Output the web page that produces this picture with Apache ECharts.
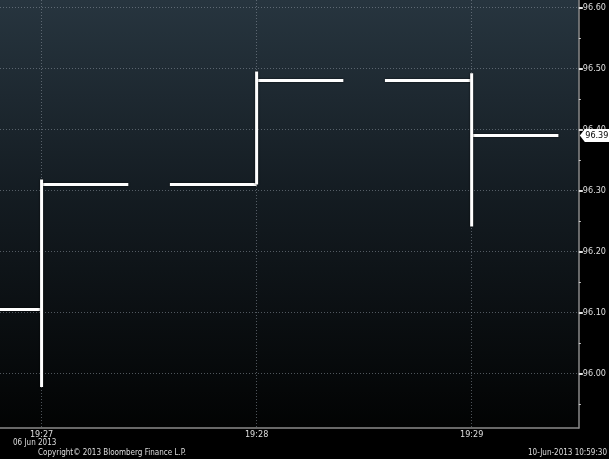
<!DOCTYPE html>
<html>
<head>
<meta charset="utf-8">
<script src="https://cdn.jsdelivr.net/npm/echarts@6/dist/echarts.min.js"></script>
<style>html,body{margin:0;padding:0;background:#000;}#c{width:609px;height:459px;}</style>
</head>
<body>
<div id="c"></div>
<script>
// ---- data ----
const barTimes = ['19:27', '19:28', '19:29'];
const opens  = [96.105, 96.31, 96.48];
const highs  = [96.318, 96.495, 96.492];
const lows   = [95.978, 96.31, 96.241];
const closes = [96.31, 96.48, 96.39];
const xTickLabels = ['19:27', '19:28', '19:29'];
const yTickValues = [96.00, 96.10, 96.20, 96.30, 96.40, 96.50, 96.60];
const yMinorValues = [95.95, 96.05, 96.15, 96.25, 96.35, 96.45, 96.55];
const dateLabel = '06 Jun 2013';
const copyrightText = 'Copyright\u00A9 2013 Bloomberg Finance L.P.';
const stampText = '10-Jun-2013 10:59:30';

// ---- helpers ----
const toSec = s => { const [h, m] = s.split(':').map(Number); return h * 3600 + m * 60; };
const xTickValues = xTickLabels.map(toSec);
const ohlc = barTimes.map((t, i) => [toSec(t), opens[i], highs[i], lows[i], closes[i]]);
const tickHalf = 24.2; // seconds for open/close tick length
const xMin = toSec('19:27') - 11.6;
const xMax = toSec('19:29') + 29.9;
const yMin = 95.911, yMax = 96.612;
const FONT = "'Liberation Sans Narrow', 'DejaVu Sans Condensed', 'Liberation Sans', sans-serif";
const txtColor = '#dedede';
const gridLine = { show: true, lineStyle: { type: [1, 2], color: 'rgba(140,150,160,0.55)', width: 1 } };

const chart = echarts.init(document.getElementById('c'), null, { renderer: 'canvas' });
chart.setOption({
  backgroundColor: '#000',
  animation: false,
  grid: {
    left: 0, right: 30, top: 0, bottom: 31, show: true, borderWidth: 0,
    backgroundColor: { type: 'linear', x: 0, y: 0, x2: 0, y2: 1, colorStops: [
      { offset: 0, color: '#27353f' }, { offset: 0.45, color: '#141c22' }, { offset: 1, color: '#020303' }] }
  },
  xAxis: {
    type: 'value', min: xMin, max: xMax,
    axisLine: { show: true, onZero: false, lineStyle: { color: '#8a8a8a', width: 1.5 } },
    axisTick: { show: false, customValues: xTickValues },
    axisLabel: {
      customValues: xTickValues, color: txtColor, fontFamily: FONT, fontSize: 9, margin: 2,
      formatter: v => xTickLabels[xTickValues.indexOf(v)] || ''
    },
    splitLine: gridLine
  },
  yAxis: [{
    type: 'value', position: 'right', min: yMin, max: yMax,
    axisLine: { show: true, lineStyle: { color: '#8a8a8a', width: 1.5 } },
    axisTick: { show: true, customValues: yTickValues, length: 4, lineStyle: { color: '#e0e0e0', width: 2 } },
    axisLabel: { customValues: yTickValues, color: txtColor, fontFamily: FONT, fontSize: 9, margin: 4,
      formatter: v => v.toFixed(2) },
    splitLine: gridLine
  }, {
    type: 'value', position: 'right', min: yMin, max: yMax,
    axisLine: { show: false },
    axisTick: { show: true, customValues: yMinorValues, length: 2, lineStyle: { color: '#cfcfcf', width: 1 } },
    axisLabel: { show: false },
    splitLine: { show: false }
  }],
  graphic: [
    { type: 'text', left: 13, top: 439, style: { text: dateLabel, fill: txtColor, font: '8px ' + FONT } },
    { type: 'text', left: 38, top: 449, style: { text: copyrightText, fill: txtColor, font: '8px ' + FONT } },
    { type: 'text', right: 2, top: 449, style: { text: stampText, fill: txtColor, font: '8px ' + FONT } }
  ],
  series: [{
    type: 'custom',
    data: ohlc,
    renderItem: function (params, api) {
      const t = api.value(0), o = api.value(1), h = api.value(2), l = api.value(3), c = api.value(4);
      const pH = api.coord([t, h]), pL = api.coord([t, l]);
      const pO1 = api.coord([t - tickHalf, o]), pO2 = api.coord([t, o]);
      const pC1 = api.coord([t, c]), pC2 = api.coord([t + tickHalf, c]);
      const cs = params.coordSys;
      const st = { stroke: '#ffffff', lineWidth: 3, lineCap: 'butt', shadowBlur: 2, shadowColor: 'rgba(0,0,0,0.8)' };
      return {
        type: 'group',
        clipPath: { type: 'rect', shape: { x: cs.x, y: cs.y, width: cs.width, height: cs.height } },
        children: [
          { type: 'line', shape: { x1: pO1[0], y1: pO1[1], x2: pO2[0], y2: pO2[1] }, style: st },
          { type: 'line', shape: { x1: pC1[0], y1: pC1[1], x2: pC2[0], y2: pC2[1] }, style: st },
          { type: 'line', shape: { x1: pH[0], y1: pH[1], x2: pL[0], y2: pL[1] }, style: st }
        ]
      };
    },
    markPoint: {
      silent: true,
      data: [{ coord: [xMax, closes[closes.length - 1]], value: closes[closes.length - 1].toFixed(2) }],
      symbol: 'path://M0,6 L5,0 L30,0 L30,12 L5,12 Z',
      symbolSize: [30, 13], symbolKeepAspect: false, symbolOffset: [16, 0],
      itemStyle: { color: '#ffffff' },
      label: { show: true, position: 'inside', offset: [2, 0], color: '#000', fontFamily: FONT, fontSize: 9,
        formatter: p => p.value }
    }
  }]
});
</script>
</body>
</html>
